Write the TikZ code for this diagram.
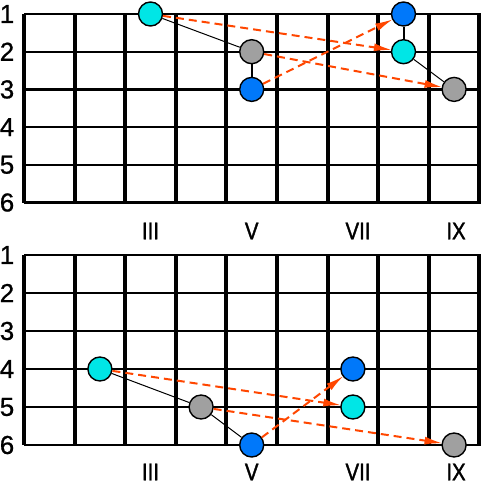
\documentclass[tikz,border=0pt]{standalone}
\usepackage{fontspec}
\setmainfont{Liberation Sans}
\newfontfamily\numfont[FakeBold=0.8]{Liberation Sans}
\newfontfamily\romfont[FakeBold=1.5,FakeStretch=0.85]{Liberation Sans}
\usetikzlibrary{arrows.meta}
\definecolor{dcyan}{RGB}{0,230,230}
\definecolor{dblue}{RGB}{0,120,250}
\definecolor{dgrey}{RGB}{160,160,160}
\definecolor{darr}{RGB}{255,70,0}
\tikzset{
  fret/.style={line width=4pt},
  stringline/.style={line width=2.3pt},
  dot/.style={circle,draw=black,line width=1.4pt,minimum size=24pt,inner sep=0pt},
  cdot/.style={dot,fill=dcyan},
  bdot/.style={dot,fill=dblue},
  gdot/.style={dot,fill=dgrey},
  thinlink/.style={line width=1pt},
  thicklink/.style={line width=2pt},
  movearrow/.style={draw=darr,line width=2pt,dash pattern=on 8pt off 5pt,-{Latex[length=18pt,width=8pt]},shorten >=-1pt},
  numlabel/.style={font=\numfont\fontsize{26}{26}\selectfont,inner sep=0pt},
  romlabel/.style={font=\romfont\fontsize{24}{24}\selectfont,inner sep=0pt}
}
\begin{document}
\begin{tikzpicture}[x=1pt,y=-1pt]
\useasboundingbox (0,0) rectangle (481,484);
% ---- top grid ----
\foreach \i in {0,...,5}{
  \draw[stringline] (24,{14+37.7*\i}) -- (481,{14+37.7*\i});
  \pgfmathtruncatemacro{\n}{\i+1}
  \node[numlabel] (tl\n) at (7,{14+37.7*\i}) {\n};
}
\foreach \j in {0,...,9}{
  \draw[fret] ({24+50.6*\j},14) -- ({24+50.6*\j},202.5);
}
% ---- bottom grid ----
\foreach \i in {0,...,5}{
  \draw[stringline] (24,{255+38*\i}) -- (481,{255+38*\i});
  \pgfmathtruncatemacro{\n}{\i+1}
  \node[numlabel] (bl\n) at (7,{255+38*\i}) {\n};
}
\foreach \j in {0,...,9}{
  \draw[fret] ({24+50.6*\j},255) -- ({24+50.6*\j},445);
}
% roman numerals
\node[romlabel] (t3) at (150.5,231) {III};
\node[romlabel] (t5) at (251.7,231) {V};
\node[romlabel] (t7) at (358,231) {VII};
\node[romlabel] (t9) at (456,231) {IX};
\node[romlabel] (b3) at (150.5,472) {III};
\node[romlabel] (b5) at (251.7,472) {V};
\node[romlabel] (b7) at (358,472) {VII};
\node[romlabel] (b9) at (456,472) {IX};
% ---- top dots ----
\node[cdot] (tc1) at (150.5,14) {};
\node[gdot] (tg1) at (251.7,51.7) {};
\node[bdot] (tb1) at (251.7,89.4) {};
\node[bdot] (tb2) at (403.5,14) {};
\node[cdot] (tc2) at (403.5,51.7) {};
\node[gdot] (tg2) at (454.1,89.4) {};
\draw[thinlink] (tc1) -- (tg1);
\draw[thicklink] (tg1) -- (tb1);
\draw[thicklink] (tb2) -- (tc2);
\draw[thinlink] (tc2) -- (tg2);
\draw[movearrow] (tc1) -- (tc2);
\draw[movearrow] (tg1) -- (tg2);
\draw[movearrow] (tb1) -- (tb2);
% ---- bottom dots ----
\node[cdot] (bc1) at (99.9,369) {};
\node[gdot] (bg1) at (201.1,407) {};
\node[bdot] (bb1) at (251.7,445) {};
\node[bdot] (bb2) at (352.9,369) {};
\node[cdot] (bc2) at (352.9,407) {};
\node[gdot] (bg2) at (454.1,445) {};
\draw[thinlink] (bc1) -- (bg1);
\draw[thinlink] (bg1) -- (bb1);
\draw[movearrow] (bc1) -- (bc2);
\draw[movearrow] (bg1) -- (bg2);
\draw[movearrow] (bb1) -- (bb2);
\end{tikzpicture}
\end{document}
